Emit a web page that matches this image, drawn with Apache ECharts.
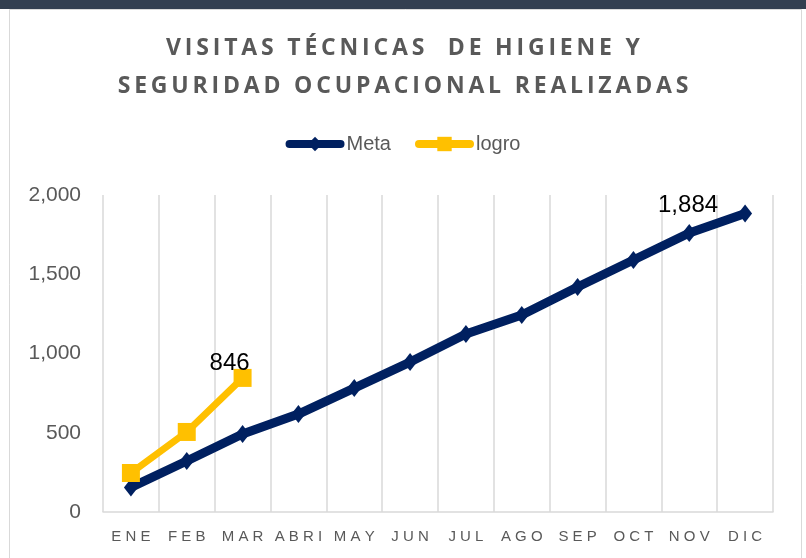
<!DOCTYPE html>
<html>
<head>
<meta charset="utf-8">
<script src="https://cdn.jsdelivr.net/npm/echarts@6/dist/echarts.min.js"></script>
<style>
  html, body { margin: 0; padding: 0; background: #fff; }
  #chart { width: 806px; height: 558px; }
</style>
</head>
<body>
<div id="chart"></div>
<script>
const months = ['ENE', 'FEB', 'MAR', 'ABRI', 'MAY', 'JUN', 'JUL', 'AGO', 'SEP', 'OCT', 'NOV', 'DIC'];
const meta = [155, 322, 492, 618, 782, 946, 1123, 1243, 1420, 1590, 1760, 1884];
const logro = [246, 505, 846];
const yTicks = [0, 500, 1000, 1500, 2000];
const titleLines = ['VISITAS TÉCNICAS  DE HIGIENE Y', 'SEGURIDAD OCUPACIONAL REALIZADAS'];

const chart = echarts.init(document.getElementById('chart'));

const fmt = v => v.toLocaleString('en-US');
// espaciado entre letras (como en Excel)
const spaced = (s, sep) => s.split('').join(sep);

const option = {
  animation: false,
  backgroundColor: '#fff',
  graphic: [
    // marco del gráfico
    { type: 'rect', shape: { x: 0, y: 0, width: 806, height: 9 }, style: { fill: '#333f50' } },
    { type: 'rect', shape: { x: 9.5, y: 9.5, width: 792, height: 560 }, style: { fill: 'none', stroke: '#d9d9d9', lineWidth: 1 } }
  ],
  title: {
    text: titleLines.map(l => spaced(l, '\u2009')).join('\n'),
    left: 'center',
    top: 24,
    textStyle: {
      fontFamily: 'Open Sans',
      fontSize: 23,
      fontWeight: 'bold',
      color: '#595959',
      lineHeight: 38
    }
  },
  legend: {
    top: 129,
    left: 'center',
    itemWidth: 51,
    itemHeight: 18,
    itemGap: 24,
    textStyle: { fontFamily: 'Liberation Sans', fontSize: 20, color: '#595959', padding: [0, 0, 0, 1] },
    data: [
      { name: 'Meta', lineStyle: { width: 8, cap: 'round' } },
      { name: 'logro', lineStyle: { width: 8, cap: 'round' } }
    ]
  },
  grid: { left: 103, right: 33, top: 195, bottom: 46 },
  xAxis: {
    type: 'category',
    data: months,
    boundaryGap: true,
    axisLine: { lineStyle: { color: '#d9d9d9', width: 1.5 } },
    axisTick: { show: false, interval: 0 },
    splitLine: { show: true, interval: 0, lineStyle: { color: '#d9d9d9', width: 1.5 } },
    axisLabel: {
      interval: 0,
      hideOverlap: false,
      fontFamily: 'Liberation Sans',
      fontSize: 15,
      color: '#595959',
      margin: 17,
      formatter: v => spaced(v, ' ')
    }
  },
  yAxis: {
    type: 'value',
    min: yTicks[0],
    max: yTicks[yTicks.length - 1],
    interval: 500,
    axisLine: { show: false },
    axisTick: { show: false },
    splitLine: { show: false },
    axisLabel: {
      fontFamily: 'Liberation Sans',
      fontSize: 21,
      color: '#595959',
      margin: 22,
      formatter: fmt
    }
  },
  series: [
    {
      name: 'Meta',
      type: 'line',
      data: meta,
      symbol: 'diamond',
      symbolSize: [14, 18],
      lineStyle: { color: '#002060', width: 9 },
      itemStyle: { color: '#002060' },
      label: {
        show: true,
        position: 'left',
        distance: 20,
        offset: [0, -8],
        fontFamily: 'Liberation Sans',
        fontSize: 24,
        color: '#000',
        formatter: p => p.dataIndex === meta.length - 1 ? fmt(p.value) : ''
      },
      z: 3
    },
    {
      name: 'logro',
      type: 'line',
      data: logro,
      symbol: 'rect',
      symbolSize: 18,
      lineStyle: { color: '#ffc000', width: 7 },
      itemStyle: { color: '#ffc000' },
      label: {
        show: true,
        position: 'top',
        distance: 0,
        offset: [-13, 6],
        fontFamily: 'Liberation Sans',
        fontSize: 24,
        color: '#000',
        formatter: p => p.dataIndex === logro.length - 1 ? fmt(p.value) : ''
      },
      z: 4
    }
  ]
};

chart.setOption(option);
</script>
</body>
</html>
